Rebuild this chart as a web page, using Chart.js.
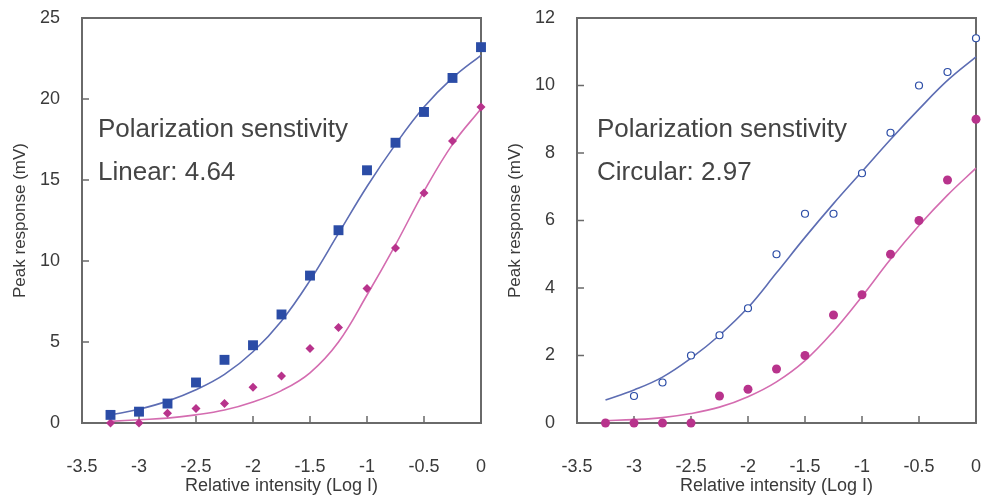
<!DOCTYPE html>
<html>
<head>
<meta charset="utf-8">
<script src="https://cdn.jsdelivr.net/npm/chart.js@4.4.0/dist/chart.umd.min.js"></script>
<style>
  body { margin: 0; background: #fff; width: 981px; height: 499px; overflow: hidden; position: relative; }
  .panel { position: absolute; top: 0; height: 499px; }
  #left { left: 0; width: 490px; }
  #right { left: 490px; width: 500px; }
</style>
</head>
<body>
<div class="panel" id="left"><canvas id="linearChart"></canvas></div>
<div class="panel" id="right"><canvas id="circularChart"></canvas></div>
<script>
// Relative intensity (log I) sample positions
const logI = [-3.25, -3, -2.75, -2.5, -2.25, -2, -1.75, -1.5, -1.25, -1, -0.75, -0.5, -0.25, 0];

// Linear polarization panel (mV)
const linearBlue = [0.5, 0.7, 1.2, 2.5, 3.9, 4.8, 6.7, 9.1, 11.9, 15.6, 17.3, 19.2, 21.3, 23.2];
const linearMagenta = [0, 0, 0.6, 0.9, 1.2, 2.2, 2.9, 4.6, 5.9, 8.3, 10.8, 14.2, 17.4, 19.5];
const linearBlueFit = [0.5, 0.85, 1.35, 2.05, 3.0, 4.4, 6.3, 8.8, 11.7, 14.6, 17.2, 19.5, 21.3, 22.7];
const linearMagentaFit = [0.1, 0.2, 0.3, 0.5, 0.8, 1.3, 2.0, 3.1, 5.0, 7.9, 11.0, 14.3, 17.2, 19.4];

// Circular polarization panel (mV), no open circle at -3.25
const circularBlue = [null, 0.8, 1.2, 2.0, 2.6, 3.4, 5.0, 6.2, 6.2, 7.4, 8.6, 10.0, 10.4, 11.4];
const circularMagenta = [0, 0, 0, 0, 0.8, 1.0, 1.6, 2.0, 3.2, 3.8, 5.0, 6.0, 7.2, 9.0];
const circularBlueFit = [0.68, 0.98, 1.36, 1.92, 2.6, 3.42, 4.45, 5.5, 6.5, 7.45, 8.4, 9.3, 10.15, 10.85];
const circularMagentaFit = [0.07, 0.1, 0.16, 0.28, 0.47, 0.78, 1.22, 1.85, 2.72, 3.75, 4.85, 5.85, 6.75, 7.55];

// Axis ticks
const xTicks = [-3.5, -3, -2.5, -2, -1.5, -1, -0.5, 0];
const linearYTicks = [0, 5, 10, 15, 20, 25];
const circularYTicks = [0, 2, 4, 6, 8, 10, 12];

const FONT = "'Liberation Sans', Arial, sans-serif";
const TEXT = '#3a3a3a';
const BLUE = '#2b4ca6';
const BLUE_LINE = '#5d6db3';
const MAGENTA = '#b8338c';
const MAGENTA_LINE = '#d46cb0';

function pts(ys) {
  return logI.map((x, i) => ({ x: x, y: ys[i] })).filter(p => p.y !== null);
}

// Draws the box frame, inward tick marks and the caption text
const framePlugin = {
  id: 'frame',
  beforeDatasetsDraw(chart, args, opts) {
    const { ctx, chartArea: a, scales } = chart;
    ctx.save();
    ctx.strokeStyle = '#6a6a6a';
    ctx.lineWidth = 2;
    ctx.strokeRect(a.left, a.top, a.right - a.left, a.bottom - a.top);
    ctx.lineWidth = 1.5;
    ctx.beginPath();
    scales.x.ticks.forEach(t => {
      const px = scales.x.getPixelForValue(t.value);
      ctx.moveTo(px, a.bottom);
      ctx.lineTo(px, a.bottom - 7);
    });
    scales.y.ticks.forEach(t => {
      const py = scales.y.getPixelForValue(t.value);
      ctx.moveTo(a.left, py);
      ctx.lineTo(a.left + 7, py);
    });
    ctx.stroke();

    ctx.fillStyle = '#444';
    ctx.font = '26px ' + FONT;
    ctx.textBaseline = 'alphabetic';
    ctx.textAlign = 'left';
    (opts.lines || []).forEach((line, i) => {
      ctx.fillText(line, a.left + opts.dx, a.top + 119 + i * 43);
    });
    ctx.restore();
  }
};

function makeChart(canvasId, cfg) {
  const datasets = [
    {
      data: pts(cfg.blue),
      pointStyle: cfg.blueStyle,
      pointRadius: cfg.blueRadius,
      pointBackgroundColor: cfg.blueFill,
      pointBorderColor: BLUE,
      pointBorderWidth: cfg.blueBorder,
      showLine: false
    },
    {
      data: pts(cfg.magenta),
      pointStyle: cfg.magentaStyle,
      pointRadius: cfg.magentaRadius,
      pointBackgroundColor: MAGENTA,
      pointBorderColor: MAGENTA,
      pointBorderWidth: 0,
      showLine: false
    },
    {
      data: pts(cfg.blueFit),
      showLine: true,
      borderColor: BLUE_LINE,
      borderWidth: 1.6,
      pointRadius: 0,
      tension: 0.4
    },
    {
      data: pts(cfg.magentaFit),
      showLine: true,
      borderColor: MAGENTA_LINE,
      borderWidth: 1.6,
      pointRadius: 0,
      tension: 0.4
    }
  ];

  return new Chart(document.getElementById(canvasId), {
    type: 'scatter',
    data: { datasets: datasets },
    plugins: [framePlugin],
    options: {
      responsive: true,
      maintainAspectRatio: false,
      animation: false,
      clip: false,
      layout: { padding: { left: 0, right: cfg.padRight, top: 18, bottom: 0 } },
      plugins: {
        legend: { display: false },
        tooltip: { enabled: false },
        frame: { lines: cfg.caption, dx: cfg.captionX }
      },
      scales: {
        x: {
          type: 'linear',
          min: -3.5,
          max: 0,
          afterBuildTicks: s => { s.ticks = xTicks.map(v => ({ value: v })); },
          afterFit: s => {
            s.height = 76;
            s.paddingLeft = 0;
            s.paddingRight = 0;
          },
          grid: { display: false, drawTicks: false },
          border: { display: false },
          ticks: {
            padding: 33,
            color: TEXT,
            font: { family: FONT, size: 18 },
            maxRotation: 0,
            callback: v => String(v)
          },
          title: {
            display: true,
            text: 'Relative intensity (Log I)',
            color: TEXT,
            font: { family: FONT, size: 18 },
            padding: { top: 0, bottom: 2 }
          }
        },
        y: {
          min: 0,
          max: cfg.yMax,
          afterBuildTicks: s => { s.ticks = cfg.yTicks.map(v => ({ value: v })); },
          afterFit: s => {
            s.width = cfg.yWidth;
            s.paddingTop = 0;
            s.paddingBottom = 0;
          },
          grid: { display: false, drawTicks: false },
          border: { display: false },
          ticks: {
            padding: 22,
            color: TEXT,
            font: { family: FONT, size: 18 },
            callback: v => String(v)
          },
          title: {
            display: true,
            text: 'Peak response (mV)',
            color: TEXT,
            font: { family: FONT, size: 17 },
            padding: { top: cfg.yTitlePad, bottom: 0 }
          }
        }
      }
    }
  });
}

makeChart('linearChart', {
  blue: linearBlue,
  magenta: linearMagenta,
  blueFit: linearBlueFit,
  magentaFit: linearMagentaFit,
  blueStyle: 'rect',
  blueRadius: 7,
  blueFill: BLUE,
  blueBorder: 0,
  magentaStyle: 'rectRot',
  magentaRadius: 4.5,
  yMax: 25,
  yTicks: linearYTicks,
  yWidth: 82,
  yTitlePad: 10,
  padRight: 9,
  caption: ['Polarization senstivity', 'Linear: 4.64'],
  captionX: 16
});

makeChart('circularChart', {
  blue: circularBlue,
  magenta: circularMagenta,
  blueFit: circularBlueFit,
  magentaFit: circularMagentaFit,
  blueStyle: 'circle',
  blueRadius: 3.5,
  blueFill: '#ffffff',
  blueBorder: 1.2,
  magentaStyle: 'circle',
  magentaRadius: 4.5,
  yMax: 12,
  yTicks: circularYTicks,
  yWidth: 87,
  yTitlePad: 15,
  padRight: 14,
  caption: ['Polarization senstivity', 'Circular: 2.97'],
  captionX: 20
});
</script>
</body>
</html>
